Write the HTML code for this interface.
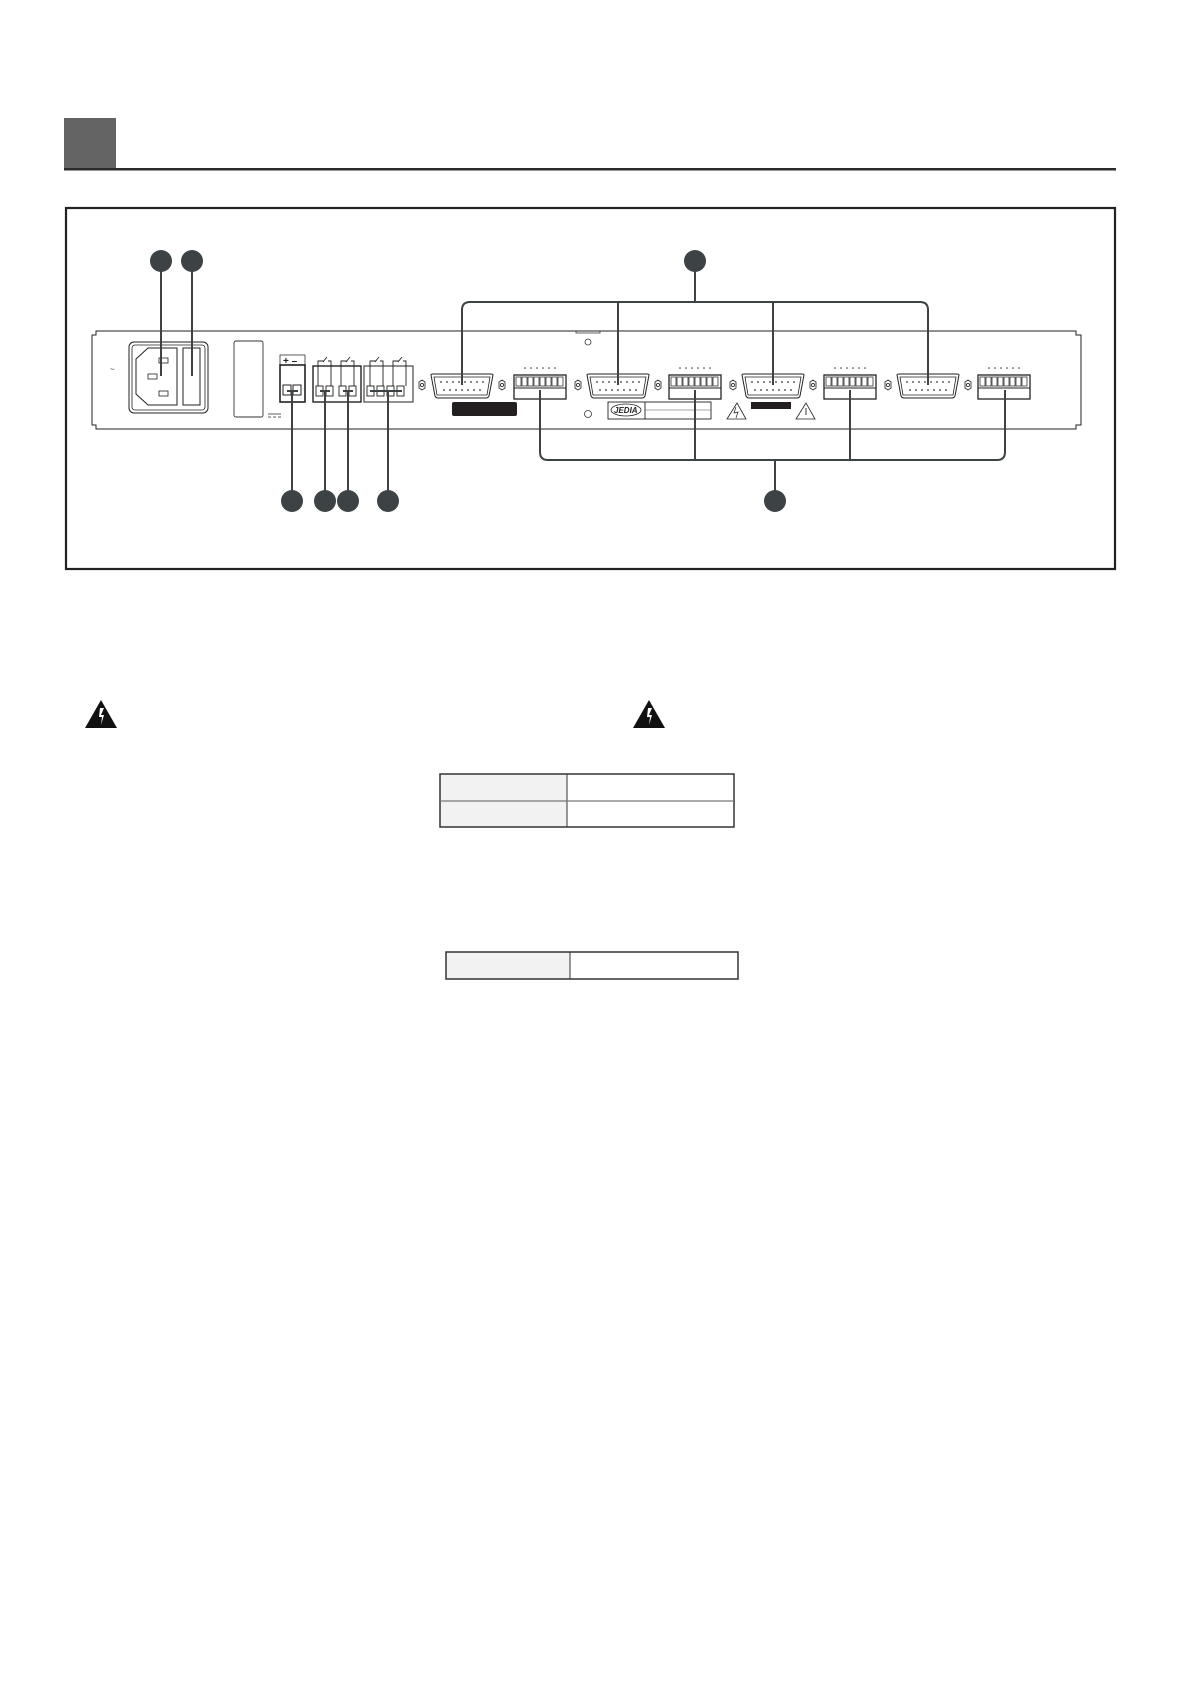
<!DOCTYPE html>
<html><head><meta charset="utf-8"><style>
html,body{margin:0;padding:0;background:#fff;}
svg{display:block;}
</style></head><body>
<svg width="1185" height="1681" viewBox="0 0 1185 1681" xmlns="http://www.w3.org/2000/svg" font-family="Liberation Sans, sans-serif">
<defs>
  <g id="db15">
    <path d="M-31,-11 Q-31,-12 -29,-12 L29,-12 Q31,-12 31,-11 L27,10 Q26,12 24,12 L-24,12 Q-26,12 -27,10 Z" fill="#fff" stroke="#222" stroke-width="1"/>
    <path d="M-28,-9 L28,-9 L25,9 L-25,9 Z" fill="none" stroke="#222" stroke-width="0.8"/>
    <g fill="#333">
      <circle cx="-21" cy="-4" r="0.9"/><circle cx="-15" cy="-4" r="0.9"/><circle cx="-9" cy="-4" r="0.9"/><circle cx="-3" cy="-4" r="0.9"/><circle cx="3" cy="-4" r="0.9"/><circle cx="9" cy="-4" r="0.9"/><circle cx="15" cy="-4" r="0.9"/><circle cx="21" cy="-4" r="0.9"/>
      <circle cx="-18" cy="4" r="0.9"/><circle cx="-12" cy="4" r="0.9"/><circle cx="-6" cy="4" r="0.9"/><circle cx="0" cy="4" r="0.9"/><circle cx="6" cy="4" r="0.9"/><circle cx="12" cy="4" r="0.9"/><circle cx="18" cy="4" r="0.9"/>
    </g>
    <g fill="#fff" stroke="#333" stroke-width="0.9">
      <polygon points="-43,-4 -40,-6 -37,-4 -37,2 -40,4 -43,2"/><circle cx="-40" cy="-1" r="1.6"/>
      <polygon points="37,-4 40,-6 43,-4 43,2 40,4 37,2"/><circle cx="40" cy="-1" r="1.6"/>
    </g>
  </g>
  <g id="dip">
    <rect x="-26" y="-12" width="52" height="24" fill="#fff" stroke="#222" stroke-width="1.3"/>
    <line x1="-26" y1="1" x2="26" y2="1" stroke="#222" stroke-width="1"/>
    <g fill="none" stroke="#333" stroke-width="0.8">
      <rect x="-24" y="-10" width="5" height="9"/><rect x="-18" y="-10" width="5" height="9"/><rect x="-12" y="-10" width="5" height="9"/><rect x="-6" y="-10" width="5" height="9"/><rect x="0" y="-10" width="5" height="9"/><rect x="6" y="-10" width="5" height="9"/><rect x="12" y="-10" width="5" height="9"/><rect x="18" y="-10" width="5" height="9"/>
    </g>
    <g fill="#333">
      <circle cx="-15" cy="-19" r="0.8"/><circle cx="-9" cy="-19" r="0.8"/><circle cx="-3" cy="-19" r="0.8"/><circle cx="3" cy="-19" r="0.8"/><circle cx="9" cy="-19" r="0.8"/><circle cx="15" cy="-19" r="0.8"/>
    </g>
  </g>
  <g id="warn">
    <polygon points="0,0 -16,28 16,28" fill="#111"/>
    <polygon points="-1,8 3,8 0,15 3,15 0,25 1,17 -2,17" fill="#fff"/>
  </g>
</defs>

<!-- header -->
<rect x="64" y="118" width="52" height="51" fill="#646464"/>
<rect x="64" y="168" width="1052" height="2.5" fill="#2b2b2b"/>

<!-- frame -->
<rect x="66" y="208" width="1049" height="361" fill="none" stroke="#222" stroke-width="2.2"/>

<!-- device panel -->
<path d="M96,331 L1076,331 L1076,335 L1081,335 L1081,425 L1076,425 L1076,429 L96,429 L96,425 L92,425 L92,335 L96,335 Z" fill="#fff" stroke="#222" stroke-width="1"/>
<text x="110" y="372" font-size="8" fill="#333">~</text>

<!-- IEC inlet -->
<rect x="129" y="342" width="79" height="71" rx="5" fill="#fff" stroke="#222" stroke-width="1"/>
<rect x="132" y="345" width="73" height="65" rx="3" fill="none" stroke="#222" stroke-width="0.8"/>
<path d="M148,348 L177,348 L177,405 L148,405 L136,394 L136,359 Z" fill="none" stroke="#222" stroke-width="1"/>
<rect x="183" y="348" width="17" height="57" fill="none" stroke="#222" stroke-width="1"/>
<rect x="159" y="358" width="9" height="5" fill="none" stroke="#222" stroke-width="0.8"/>
<rect x="148" y="374" width="9" height="5" fill="none" stroke="#222" stroke-width="0.8"/>
<rect x="159" y="391" width="9" height="5" fill="none" stroke="#222" stroke-width="0.8"/>

<!-- label rect -->
<rect x="234" y="341" width="29" height="76" rx="2" fill="#fff" stroke="#333" stroke-width="0.9"/>
<g stroke="#333" stroke-width="0.8"><line x1="268" y1="414" x2="281" y2="414"/><line x1="268" y1="417" x2="271" y2="417"/><line x1="273" y1="417" x2="276" y2="417"/><line x1="278" y1="417" x2="281" y2="417"/></g>

<!-- DC terminal -->
<rect x="280" y="355" width="25" height="10" fill="#fff" stroke="#333" stroke-width="0.8"/>
<text x="283" y="364" font-size="10" font-weight="bold" fill="#222">+ –</text>
<rect x="280" y="365" width="25" height="37" fill="#fff" stroke="#222" stroke-width="1.6"/>
<rect x="283" y="385" width="8" height="10" fill="none" stroke="#222" stroke-width="1"/>
<rect x="293" y="385" width="8" height="10" fill="none" stroke="#222" stroke-width="1"/>

<!-- relay terminal blocks -->
<rect x="313" y="366" width="48" height="36" fill="#fff" stroke="#222" stroke-width="1.4"/>
<rect x="364" y="366" width="49" height="36" fill="#fff" stroke="#222" stroke-width="1"/>
<g fill="none" stroke="#222" stroke-width="0.9">
  <rect x="316" y="386" width="7" height="10"/><rect x="326" y="386" width="7" height="10"/>
  <rect x="339" y="386" width="7" height="10"/><rect x="349" y="386" width="7" height="10"/>
  <rect x="367" y="386" width="7" height="10"/><rect x="377" y="386" width="7" height="10"/><rect x="387" y="386" width="7" height="10"/><rect x="397" y="386" width="7" height="10"/>
  <path d="M318,386 V361 H324 M328,361 H331 V386"/>
  <path d="M341,386 V361 H347 M351,361 H354 V386"/>
  <path d="M370,386 V361 H376 M380,361 H383 V386"/>
  <path d="M393,386 V361 H399 M403,361 H406 V386"/>
  <path d="M323,362 L327,357 M346,362 L350,357 M375,362 L379,357 M398,362 L402,357"/>
</g>

<!-- DB15s & DIPs -->
<use href="#db15" x="462" y="386"/>
<use href="#db15" x="618" y="386"/>
<use href="#db15" x="773" y="386"/>
<use href="#db15" x="928" y="386"/>
<use href="#dip" x="540" y="387"/>
<use href="#dip" x="695" y="387"/>
<use href="#dip" x="850" y="387"/>
<use href="#dip" x="1004" y="387"/>

<rect x="452" y="402" width="65" height="14" rx="2" fill="#231f20"/>
<rect x="751" y="402" width="40" height="7" fill="#231f20"/>
<circle cx="588" cy="342" r="3" fill="none" stroke="#333" stroke-width="0.8"/>
<circle cx="588" cy="414" r="3.5" fill="none" stroke="#333" stroke-width="0.8"/>
<path d="M576,331 V333 H600 V331" fill="none" stroke="#333" stroke-width="0.8"/>
<!-- logo box -->
<rect x="608" y="402" width="103" height="17" fill="#fff" stroke="#222" stroke-width="0.9"/>
<line x1="645" y1="402" x2="645" y2="419" stroke="#222" stroke-width="0.9"/>
<line x1="645" y1="410" x2="711" y2="410" stroke="#555" stroke-width="0.6"/>
<ellipse cx="626" cy="410" rx="15" ry="6" fill="none" stroke="#222" stroke-width="0.8"/>
<text x="614" y="413" font-size="8" font-weight="bold" font-style="italic" fill="#222">JEDIA</text>
<!-- small warnings -->
<polygon points="737,403 727,419 746,419" fill="none" stroke="#222" stroke-width="0.8"/>
<path d="M736,407 L734,413 L738,412 L736,418" fill="none" stroke="#222" stroke-width="0.7"/>
<polygon points="806,403 796,419 815,419" fill="none" stroke="#222" stroke-width="0.8"/>
<line x1="806" y1="408" x2="806" y2="415" stroke="#222" stroke-width="0.9"/>

<!-- callout connectors -->
<g fill="none" stroke="#3d4345" stroke-width="2">
  <line x1="161" y1="260" x2="161" y2="376"/>
  <line x1="192" y1="260" x2="192" y2="376"/>
  <line x1="695" y1="260" x2="695" y2="302"/>
  <path d="M462,385 V310 Q462,302 470,302 H920 Q928,302 928,310 V385"/>
  <line x1="618" y1="302" x2="618" y2="385"/>
  <line x1="773" y1="302" x2="773" y2="385"/>
  <path d="M540,390 V452 Q540,460 548,460 H997 Q1005,460 1005,452 V390"/>
  <line x1="695" y1="390" x2="695" y2="460"/>
  <line x1="850" y1="390" x2="850" y2="460"/>
  <line x1="775" y1="460" x2="775" y2="502"/>
  <line x1="292" y1="392" x2="292" y2="502"/>
  <line x1="325" y1="392" x2="325" y2="502"/>
  <line x1="348" y1="392" x2="348" y2="502"/>
  <line x1="388" y1="392" x2="388" y2="502"/>
  <line x1="287" y1="391" x2="298" y2="391"/>
  <line x1="320" y1="391" x2="330" y2="391"/>
  <line x1="343" y1="391" x2="353" y2="391"/>
  <line x1="370" y1="391" x2="402" y2="391"/>
</g>
<g fill="#3d4345">
  <circle cx="161" cy="261" r="11"/>
  <circle cx="192" cy="261" r="11"/>
  <circle cx="695" cy="261" r="11"/>
  <circle cx="292" cy="501" r="11"/>
  <circle cx="325" cy="501" r="11"/>
  <circle cx="348" cy="501" r="11"/>
  <circle cx="388" cy="501" r="11"/>
  <circle cx="775" cy="501" r="11"/>
</g>

<!-- warnings lower -->
<use href="#warn" x="101" y="700"/>
<use href="#warn" x="649" y="700"/>

<!-- table 1 -->
<rect x="440" y="774" width="127" height="53" fill="#f2f2f2"/>
<rect x="440" y="774" width="294" height="53" fill="none" stroke="#333" stroke-width="1.5"/>
<line x1="567" y1="774" x2="567" y2="827" stroke="#333" stroke-width="1"/>
<line x1="440" y1="801" x2="734" y2="801" stroke="#777" stroke-width="1.3"/>

<!-- table 2 -->
<rect x="446" y="952" width="124" height="27" fill="#f2f2f2"/>
<rect x="446" y="952" width="292" height="27" fill="none" stroke="#333" stroke-width="1.5"/>
<line x1="570" y1="952" x2="570" y2="979" stroke="#333" stroke-width="1"/>
</svg>
</body></html>
